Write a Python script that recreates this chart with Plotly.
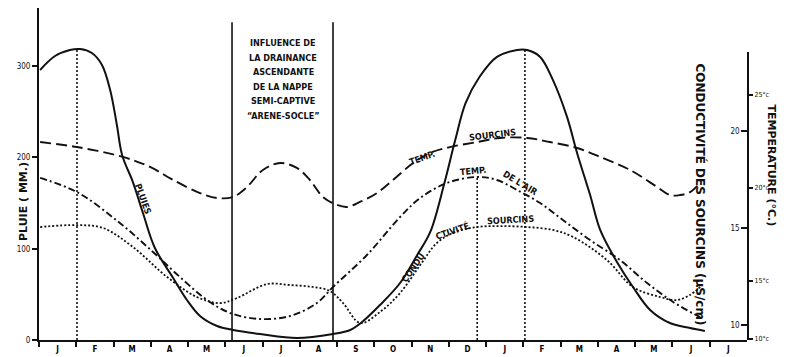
import plotly.graph_objects as go

# ---------------- data (months counted from start of first January) -------------
month_labels = ["J", "F", "M", "A", "M", "J", "J", "A", "S", "O", "N", "D",
                "J", "F", "M", "A", "M", "J", "J"]

# Rain (mm)
rain_x = [0.03, 0.43, 0.83, 1.10, 1.42, 1.69, 1.91, 2.09, 2.23, 2.52, 2.79, 3.11, 3.60,
          3.97, 4.32, 4.78, 5.21, 5.93, 6.92, 7.89, 8.35, 8.67, 9.15, 9.69, 10.15,
          10.50, 10.88, 11.17, 11.45, 11.82, 12.29, 12.83, 13.10, 13.45, 13.79, 14.17,
          14.44, 14.79, 15.06, 15.51, 15.94, 16.40, 16.93, 17.47, 17.87]
rain_mm = [295.7, 311.0, 317.6, 318.7, 314.3, 301.2, 273.8, 235.5, 202.6, 173.0, 139.1,
           100.8, 67.9, 43.8, 26.3, 15.3, 11.0, 6.6, 2.2, 6.6, 11.0, 19.7, 38.3, 62.4,
           93.1, 118.3, 172.0, 219.0, 259.6, 288.0, 310.0, 317.6, 317.6, 310.0, 284.8,
           244.3, 204.8, 158.8, 120.5, 85.4, 58.0, 32.9, 18.6, 13.1, 9.9]

# Spring water temperature (deg C)
tsrc_x = [0.03, 1.02, 2.25, 2.98, 3.60, 4.32, 4.78, 5.21, 5.58, 6.01, 6.47, 6.92, 7.27,
          7.62, 8.00, 8.27, 8.61, 9.07, 9.50, 10.04, 10.49, 11.03, 11.76, 12.37, 13.10,
          13.71, 14.44, 15.06, 15.86, 16.59, 16.93, 17.20, 17.47, 17.74]
tsrc_c = [22.47, 22.20, 21.67, 21.13, 20.43, 19.73, 19.46, 19.52, 20.05, 20.97, 21.34,
          21.08, 20.43, 19.52, 19.09, 18.98, 19.25, 19.73, 20.43, 21.34, 21.88, 22.20,
          22.47, 22.69, 22.69, 22.47, 22.15, 21.67, 20.97, 20.05, 19.62, 19.62, 19.78,
          20.27]

# Air temperature (deg C)
tair_x = [0.03, 1.02, 2.17, 3.06, 3.78, 4.51, 5.13, 5.93, 6.74, 7.46, 7.89, 8.80, 9.69,
          10.23, 10.95, 11.76, 12.29, 12.83, 13.45, 14.06, 14.79, 15.59, 16.32, 17.02,
          17.74]
tair_c = [20.54, 19.78, 18.12, 16.56, 15.22, 13.98, 13.28, 12.96, 13.12, 13.82, 14.68,
          16.40, 18.44, 19.46, 20.27, 20.59, 20.43, 19.89, 19.19, 18.28, 17.20, 16.13,
          14.89, 13.87, 13.06]

# Spring conductivity (uS/cm)
cond_x = [0.03, 1.02, 1.72, 2.52, 3.44, 4.24, 4.86, 5.31, 6.12, 6.74, 7.35, 7.81, 8.16,
          8.62, 9.15, 9.69, 10.23, 10.68, 11.16, 11.76, 12.37, 13.10, 13.79, 14.33,
          15.24, 15.94, 16.67, 17.12, 17.47, 17.74]
cond_v = [15.05, 15.15, 15.00, 14.02, 12.47, 11.44, 11.13, 11.39, 12.11, 12.06, 11.96,
          11.75, 11.13, 10.10, 10.67, 11.65, 13.09, 14.23, 14.79, 15.05, 15.10, 15.05,
          14.90, 14.54, 13.35, 11.96, 11.44, 11.29, 11.55, 11.96]

# Period of ascending drainage influence (month positions) and its top (mm)
influence_bounds = [5.18, 7.89]
influence_top_mm = 348

# Dotted peak markers: month position, top value (mm)
peak_months = [1.02, 11.76, 13.04]
peak_tops_mm = [318.7, 178.5, 317.6]

influence_lines = ["INFLUENCE DE", "LA DRAINANCE", "ASCENDANTE", "DE LA NAPPE",
                   "SEMI-CAPTIVE", "\u201cARENE-SOCLE\u201d"]

rain_ticks = [0, 100, 200, 300]
cond_ticks = [10, 15, 20]
temp_ticks = [11.9, 15, 20, 25]
temp_ticktext = ["10\u00b0c", "15\u00b0c", "20\u00b0c", "25\u00b0c"]

# ---------------- figure ------------------------------------------------------
FONT = "DejaVu Sans Condensed, DejaVu Sans"
FONT_W = "DejaVu Sans"
INK = "#111111"

fig = go.Figure()

# vertical lines
for xb in influence_bounds:
    fig.add_trace(go.Scatter(x=[xb, xb], y=[0, influence_top_mm], mode="lines",
                             line=dict(color=INK, width=1.6), hoverinfo="skip"))
for xp, yp in zip(peak_months, peak_tops_mm):
    fig.add_trace(go.Scatter(x=[xp, xp], y=[0, yp], mode="lines",
                             line=dict(color=INK, width=1.6, dash="2px,2px"),
                             hoverinfo="skip"))

fig.add_trace(go.Scatter(x=rain_x, y=rain_mm, mode="lines", line_shape="spline",
                         line=dict(color=INK, width=2), name="Pluies"))
fig.add_trace(go.Scatter(x=cond_x, y=cond_v, yaxis="y2", mode="lines",
                         line_shape="spline",
                         line=dict(color=INK, width=1.8, dash="2px,2px"),
                         name="Conductivité sourcins"))
fig.add_trace(go.Scatter(x=tsrc_x, y=tsrc_c, yaxis="y3", mode="lines",
                         line_shape="spline",
                         line=dict(color=INK, width=1.9, dash="11px,5px"),
                         name="Temp. sourcins"))
fig.add_trace(go.Scatter(x=tair_x, y=tair_c, yaxis="y3", mode="lines",
                         line_shape="spline",
                         line=dict(color=INK, width=1.9, dash="7px,3px,2px,3px"),
                         name="Temp. de l'air"))

tickfont = dict(family=FONT, size=8, color=INK)

# page body adds an 8px offset; plot area spans window x 39-747, y 8-340
fig.update_layout(
    width=789, height=349,
    margin=dict(l=31, r=50, t=0, b=17),
    paper_bgcolor="white", plot_bgcolor="rgba(0,0,0,0)",
    showlegend=False, hovermode=False,
    xaxis=dict(range=[0, 19], showgrid=False, zeroline=False,
               showline=True, linecolor=INK, linewidth=2,
               tickmode="array", tickvals=[i + 0.5 for i in range(19)],
               ticktext=["<b>" + m + "</b>" for m in month_labels], ticks="",
               tickfont=dict(family=FONT, size=8, color="#000000"),
               minor=dict(tickmode="linear", tick0=0, dtick=1, ticks="outside",
                          ticklen=5, tickwidth=1.5, tickcolor=INK),
               anchor="y", automargin=False),
    yaxis=dict(range=[0, 363.6], showgrid=False, zeroline=False,
               showline=True, linecolor=INK, linewidth=2,
               tickmode="array", tickvals=rain_ticks, ticks="outside",
               ticklen=5, tickwidth=1.5, tickcolor=INK, tickfont=tickfont,
               automargin=False),
    yaxis2=dict(range=[9.227, 26.34], overlaying="y", side="right", anchor="x",
                showgrid=False, zeroline=False, showline=False,
                tickmode="array", tickvals=cond_ticks, ticks="inside",
                ticklabelposition="inside", ticklen=6, tickwidth=1.5,
                tickcolor=INK, tickfont=tickfont, automargin=False),
    yaxis3=dict(domain=[0, 0.8675], range=[11.83, 27.31], side="right", anchor="x",
                showgrid=False, zeroline=False, showline=True, linecolor=INK,
                linewidth=2, tickmode="array", tickvals=temp_ticks,
                ticktext=temp_ticktext, ticks="outside", ticklen=4, tickwidth=1.5,
                tickcolor=INK, tickfont=dict(family=FONT, size=7, color=INK),
                automargin=False),
)

ann_font = dict(family=FONT, size=9, color=INK)

# box text
for i, line in enumerate(influence_lines):
    fig.add_annotation(x=6.55, y=(340 - 43 - 14.6 * i) / 0.913, xref="x", yref="y",
                       text="<b>" + line + "</b>", showarrow=False,
                       font=dict(family=FONT, size=9, color=INK))

# curve labels
labels = [
    ("PLUIES", 2.79, 154.4, 70),
    ("TEMP.", 10.28, 199.3, -20),
    ("SOURCINS", 12.16, 224.5, -7),
    ("TEMP.", 11.65, 185.1, -5),
    ("DE L'AIR", 12.91, 172.0, 31),
    ("CONDU", 10.04, 78.9, -55),
    ("CTIVITÉ", 11.11, 119.4, -19),
    ("SOURCINS", 12.64, 131.4, -3),
]
for txt, lx, ly, ang in labels:
    fig.add_annotation(x=lx, y=ly, xref="x", yref="y", text="<b>" + txt + "</b>",
                       textangle=ang, showarrow=False, font=ann_font)

# axis titles
fig.add_annotation(x=(15 - 39) / 708, y=(340 - 243) / 332, xref="paper", yref="paper",
                   text="<b>PLUIE ( MM.)</b>", textangle=-90, showarrow=False,
                   font=dict(family=FONT_W, size=11, color=INK))
fig.add_annotation(x=(710 - 39) / 708, y=(340 - 194) / 332, xref="paper", yref="paper",
                   text="<b>CONDUCTIVITÉ DES SOURCINS (\u00b5S/cm)</b>", textangle=90,
                   showarrow=False, font=dict(family=FONT_W, size=12, color=INK))
fig.add_annotation(x=(780 - 39) / 708, y=(340 - 165) / 332, xref="paper", yref="paper",
                   text="<b>TEMPERATURE (\u00b0C.)</b>", textangle=90,
                   showarrow=False, font=dict(family=FONT_W, size=11, color=INK))

fig.write_html("out.html")
